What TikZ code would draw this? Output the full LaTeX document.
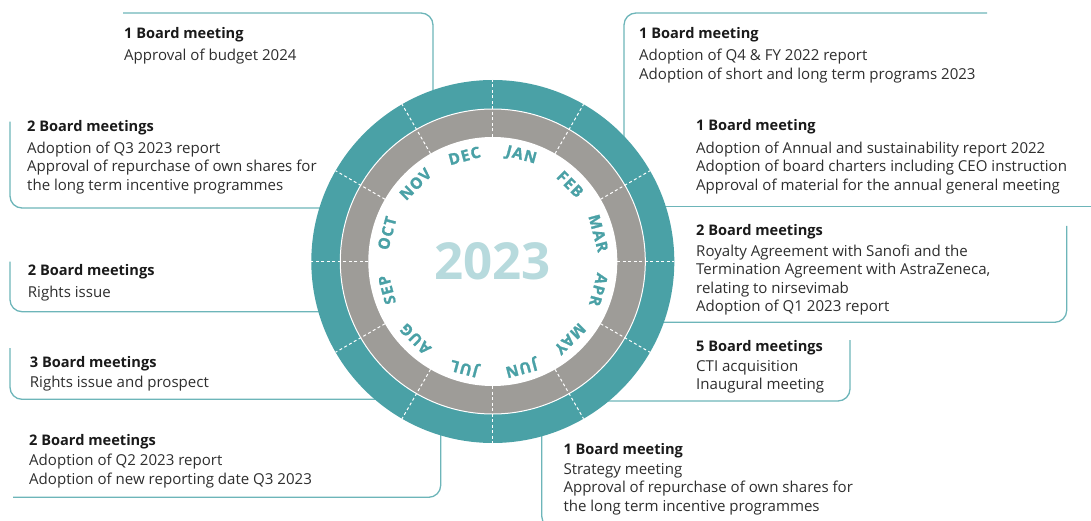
\documentclass[tikz,border=0pt]{standalone}
\usepackage{fontspec}
\usetikzlibrary{calc}
\setmainfont{Open Sans}
\definecolor{ringteal}{HTML}{4AA1A6}
\definecolor{ringgray}{HTML}{9E9C98}
\definecolor{yearcol}{HTML}{B7DADD}
\definecolor{linecol}{HTML}{6DB5B9}
\definecolor{titlecol}{HTML}{1A1A1A}
\definecolor{bodycol}{HTML}{2E2E2E}
\tikzset{
  ttl/.style={anchor=base west, inner sep=0pt, font=\bfseries\fontsize{14.6}{18.5}\selectfont, text=titlecol},
  bdy/.style={anchor=base west, inner sep=0pt, align=left, font=\fontsize{15.05}{18.5}\selectfont, text=bodycol},
  callout/.style={draw=linecol, line width=1.3pt, rounded corners=12pt},
  monthlbl/.style={inner sep=0pt, text=ringteal, font=\bfseries\fontsize{15.5}{15.5}\selectfont\addfontfeature{LetterSpace=8,FakeBold=1.2}},
  sep/.style={draw=white, line width=1pt, dash pattern=on 3pt off 2.5pt},
}
\begin{document}
\begin{tikzpicture}[x=1pt,y=1pt]
\useasboundingbox (0,0) rectangle (1091,520);
\coordinate (C) at (492.8,258.5);

% callout lines
\coordinate (a1) at (123,507); \coordinate (a2) at (433,507); \coordinate (a3) at (433,422);
\draw[callout] (a1) -- (a2) -- (a3);
\coordinate (b1) at (10,398.3); \coordinate (b2) at (10,312); \coordinate (b3) at (326,312);
\draw[callout] (b1) -- (b2) -- (b3);
\coordinate (c1) at (10,258.3); \coordinate (c2) at (10,208.3); \coordinate (c3) at (325,208.3);
\draw[callout] (c1) -- (c2) -- (c3);
\coordinate (d1) at (10,172); \coordinate (d2) at (10,120.7); \coordinate (d3) at (382,120.7);
\draw[callout] (d1) -- (d2) -- (d3);
\coordinate (e1) at (13,22.7); \coordinate (e2) at (440.7,22.7); \coordinate (e3) at (440.7,92);
\draw[callout] (e1) -- (e2) -- (e3);
\coordinate (f1) at (541.7,91); \coordinate (f2) at (541.7,-8); \coordinate (f3) at (700,-8);
\draw[callout] (f1) -- (f2) -- (f3);
\coordinate (g1) at (850,180); \coordinate (g2) at (850,119); \coordinate (g3) at (600,119);
\draw[callout] (g1) -- (g2) -- (g3);
\coordinate (h1) at (1066.7,294); \coordinate (h2) at (1066.7,197.7); \coordinate (h3) at (655,197.7);
\draw[callout] (h1) -- (h2) -- (h3);
\coordinate (i1) at (1091,313.3); \coordinate (i2) at (655,313.3);
\draw[callout] (i1) -- (i2);
\coordinate (j1) at (987,507); \coordinate (j2) at (624,507); \coordinate (j3) at (624,376);
\draw[callout] (j1) -- (j2) -- (j3);

% wheel
\fill[ringteal] (C) circle (181.5);
\fill[ringgray] (C) circle (152.5);
\fill[white] (C) circle (124.5);
\draw[white, line width=1pt] (C) circle (152.5);
\foreach \a in {0,30,...,330}
  \draw[sep] ($(C)+(\a:124.5)$) -- ($(C)+(\a:181.5)$);

\foreach \m [count=\i] in {JAN,FEB,MAR,APR,MAY,JUN,JUL,AUG,SEP,OCT,NOV,DEC}{
  \pgfmathsetmacro{\ang}{105-30*\i}
  \node[monthlbl, rotate=\ang-90] (m\i) at ($(C)+(\ang:109.5)$) {\m};
}
\node[inner sep=0pt, text=yearcol, font=\bfseries\fontsize{51}{51}\selectfont] (year) at (C) {2023};

% texts (body nodes: anchor is the baseline of their last line)
\node[ttl] (tA) at (124,481.7) {1 Board meeting};
\node[bdy] (bA) at (124,459) {Approval of budget 2024};

\node[ttl] (tJ) at (639,481.7) {1 Board meeting};
\node[bdy] (bJ) at (639,440.5) {Adoption of Q4 \& FY 2022 report\\Adoption of short and long term programs 2023};

\node[ttl] (tB) at (27,388.3) {2 Board meetings};
\node[bdy] (bB) at (27,329.7) {Adoption of Q3 2023 report\\Approval of repurchase of own shares for\\the long term incentive programmes};

\node[ttl] (tI) at (696,389) {1 Board meeting};
\node[bdy] (bI) at (696,329.7) {Adoption of Annual and sustainability report 2022\\Adoption of board charters including CEO instruction\\Approval of material for the annual general meeting};

\node[ttl] (tH) at (696,284) {2 Board meetings};
\node[bdy] (bH) at (696,208.5) {Royalty Agreement with Sanofi and the\\Termination Agreement with AstraZeneca,\\relating to nirsevimab\\Adoption of Q1 2023 report};

\node[ttl] (tC) at (27.7,244.3) {2 Board meetings};
\node[bdy] (bC) at (27.7,222.3) {Rights issue};

\node[ttl] (tG) at (696,169) {5 Board meetings};
\node[bdy] (bG) at (696,130.2) {CTI acquisition\\Inaugural meeting};

\node[ttl] (tD) at (29.7,152.7) {3 Board meetings};
\node[bdy] (bD) at (29.7,132.3) {Rights issue and prospect};

\node[ttl] (tE) at (29,75) {2 Board meetings};
\node[bdy] (bE) at (29,35.8) {Adoption of Q2 2023 report\\Adoption of new reporting date Q3 2023};

\node[ttl] (tF) at (563.3,65.7) {1 Board meeting};
\node[bdy] (bF) at (563.3,8.7) {Strategy meeting\\Approval of repurchase of own shares for\\the long term incentive programmes};
\end{tikzpicture}
\end{document}
